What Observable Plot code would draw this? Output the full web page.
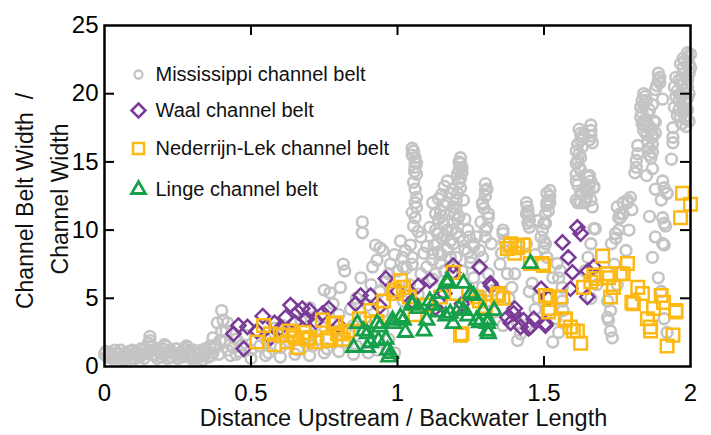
<!DOCTYPE html>
<html><head><meta charset="utf-8">
<script src="https://cdn.jsdelivr.net/npm/d3@7"></script>
<script src="https://cdn.jsdelivr.net/npm/@observablehq/plot@0.6"></script>
<style>
body{margin:0;background:#fff;}
g[aria-label="x-axis tick label"], g[aria-label="y-axis tick label"]{font-size:24px;}
</style>
</head><body>
<div id="chart"></div>
<script>
// ---- data ----
const mississippi = [
[0.0,0.9],[0.005,1.1],[0.01,0.7],[0.02,1.0],[0.03,0.8],[0.035,1.2],[0.04,0.6],[0.05,0.9],[0.06,0.7],[0.065,0.5],[0.07,1.0],[0.08,0.8],[0.09,0.6],[0.095,1.2],[0.10,0.9],[0.11,1.1],[0.12,0.7],[0.125,1.3],[0.13,0.9],[0.14,1.3],[0.15,1.7],[0.155,2.2],[0.16,1.2],[0.17,0.8],[0.18,0.6],[0.185,1.3],[0.19,1.0],[0.20,1.3],[0.21,1.5],[0.215,0.6],[0.22,1.0],[0.23,0.7],[0.24,0.9],[0.245,1.3],[0.25,0.6],[0.26,1.0],[0.27,1.3],[0.28,1.5],[0.29,1.2],[0.30,0.8],[0.305,1.2],[0.31,0.6],[0.32,0.9],[0.33,1.2],[0.335,0.5],[0.34,0.8],[0.35,1.1],[0.355,0.7],[0.36,1.5],[0.37,1.0],[0.37,2.1],[0.38,1.6],[0.385,3.2],[0.40,4.1],[0.42,3.2],[0.40,2.6],[0.41,1.8],[0.42,1.2],[0.43,0.8],[0.44,1.4],[0.45,2.0],[0.46,1.1],[0.47,1.6],
[0.015,0.9],[0.025,0.6],[0.045,1.0],[0.055,1.2],[0.075,0.7],[0.085,1.1],[0.105,0.6],[0.115,0.8],[0.135,0.6],[0.145,1.0],[0.165,0.9],[0.175,1.2],[0.195,0.7],[0.205,0.9],[0.225,1.2],[0.235,1.0],[0.255,0.9],[0.265,0.7],[0.275,1.0],[0.285,0.8],[0.295,0.6],[0.315,1.0],[0.325,0.7],[0.345,1.3],[0.365,0.8],[0.375,1.3],[0.39,0.9],[0.395,1.9],[0.405,3.4],[0.415,2.6],[0.43,1.6],[0.45,0.9],[0.15,1.0],[0.155,1.9],[0.16,1.5],[0.205,1.6],[0.285,1.4],
[0.5,0.6],[0.55,0.8],[0.6,0.7],[0.65,0.9],[0.7,0.8],[0.75,1.0],[0.8,1.1],[0.85,0.9],[0.9,1.0],
[0.48,2.3],[0.5,1.2],[0.52,2.6],[0.53,1.5],[0.55,2.0],[0.56,1.0],[0.58,2.8],[0.6,1.4],[0.61,3.0],[0.63,1.8],[0.64,2.6],[0.66,1.2],[0.67,3.4],[0.69,2.2],[0.70,4.3],[0.71,1.5],[0.72,3.0],[0.73,2.0],[0.75,5.6],[0.75,3.6],[0.76,1.3],[0.77,5.4],[0.78,4.6],[0.79,2.6],[0.80,3.8],[0.805,5.8],[0.815,7.5],[0.82,7.0],[0.83,1.8],[0.84,4.2],[0.85,3.0],[0.86,5.0],[0.875,6.5],[0.88,10.6],[0.88,9.8],[0.89,3.6],[0.9,4.5],[0.91,6.0],[0.915,7.3],[0.925,8.9],[0.93,7.8],[0.94,5.5],[0.95,4.0],[0.96,6.2],[0.976,7.5],[1.0,7.0],[1.017,8.0],[1.027,8.5],[1.044,8.9],
[0.86,1.5],[0.9,2.5],[0.93,1.2],[0.97,2.0],[0.99,1.0],
[1.06,12.0],[1.06,10.9],[1.055,15.8],[1.06,15.3],[1.065,14.9],[1.065,14.1],[1.065,11.7],[1.08,9.5],[1.09,8.3],[1.10,7.3],[1.0,5.5],[1.02,4.8],[1.04,6.0],[1.07,5.3],[1.12,6.4],[1.136,9.75],[1.136,9.0],[1.147,11.4],[1.157,10.5],[1.17,12.0],[1.18,12.7],[1.19,10.5],[1.18,9.2],[1.215,15.3],[1.215,14.9],[1.22,14.2],[1.215,13.1],[1.205,12.7],[1.19,11.7],[1.225,12.2],[1.2,8.0],[1.225,9.2],[1.24,10.0],[1.26,6.5],[1.29,12.0],[1.31,11.2],[1.28,8.5],[1.29,8.0],[1.30,13.4],[1.30,12.9],[1.31,6.8],[1.32,9.0],[1.33,5.6],
[1.05,15.5],[1.06,14.6],[1.055,13.5],[1.06,13.0],[1.065,12.4],[1.05,11.3],[1.055,10.3],[1.07,9.9],
[1.21,15.0],[1.22,14.6],[1.215,13.8],[1.21,13.5],[1.2,12.2],[1.195,11.2],[1.205,10.8],[1.185,10.0],
[1.305,13.0],[1.3,12.5],[1.295,11.6],[1.285,10.6],[1.3,10.0],
[0.95,8.5],[0.97,6.8],[0.99,8.2],[1.01,9.2],[1.03,7.2],[1.05,8.0],[1.08,6.8],[1.1,8.8],[1.12,7.8],[1.14,8.4],[1.16,9.6],[1.18,8.0],[1.22,7.0],[1.24,8.4],[1.26,8.8],[1.28,7.2],[1.11,10.2],[1.15,11.0],[1.23,10.8],
[1.15,8.2],[1.16,7.0],[1.2,9.8],[1.21,11.0],[1.17,10.0],[1.23,8.6],[1.25,7.6],[1.27,9.5],[1.13,6.8],
[1.12,12.0],[1.13,11.2],[1.14,10.8],[1.15,12.6],[1.16,13.2],[1.17,13.6],[1.18,11.4],[1.19,13.0],[1.2,11.6],[1.16,11.8],[1.14,12.3],[1.13,10.0],[1.15,9.4],[1.17,8.6],[1.19,9.0],[1.21,9.5],[1.125,8.9],[1.145,7.6],[1.205,14.1],[1.21,14.4],
[1.06,15.0],[1.058,14.3],[1.05,16.0],[1.31,10.9],[1.305,10.2],[1.29,11.9],[1.3,9.5],[1.36,10.0],[1.365,9.2],[1.355,8.3],[1.245,9.5],[1.25,8.0],[1.26,9.0],[1.14,9.75],[1.135,9.0],[1.12,8.3],[1.05,7.5],[1.02,7.3],[0.94,8.7],
[1.36,9.75],[1.35,7.5],[1.375,6.8],[1.40,6.8],[1.39,5.8],[1.41,3.2],[1.41,1.9],[1.42,2.4],[1.443,11.7],[1.447,11.1],[1.45,10.2],[1.44,9.0],[1.46,6.1],[1.47,8.2],[1.48,5.0],[1.52,12.9],[1.515,12.2],[1.515,11.4],[1.52,12.0],[1.505,10.5],[1.50,8.7],[1.51,8.0],[1.49,9.5],[1.53,6.5],[1.556,7.0],[1.562,5.8],[1.563,4.8],[1.565,4.1],[1.54,3.5],[1.55,2.5],[1.53,1.8],
[1.445,11.4],[1.45,10.7],[1.52,12.5],[1.51,11.8],[1.5,9.2],[1.495,10.0],
[1.44,12.0],[1.44,11.2],[1.445,10.5],[1.51,12.7],[1.51,12.0],[1.505,11.2],[1.50,10.5],[1.505,9.0],[1.48,10.7],[1.545,7.55],[1.55,6.5],
[1.33,4.0],[1.36,3.0],[1.38,5.0],[1.45,5.5],[1.47,4.2],[1.44,3.0],[1.29,5.8],[1.31,4.8],
[1.625,17.1],[1.66,17.7],[1.625,16.6],[1.66,16.9],[1.61,15.8],[1.625,15.3],[1.61,14.9],[1.625,14.4],[1.61,13.6],[1.66,13.6],[1.67,13.1],[1.65,12.8],[1.64,12.0],[1.665,11.7],[1.61,12.2],[1.625,12.0],[1.645,12.4],[1.675,10.1],[1.665,16.4],[1.63,16.1],[1.655,14.0],[1.66,9.0],[1.65,8.0],[1.64,7.0],[1.68,6.0],[1.66,5.0],
[1.62,17.4],[1.635,17.0],[1.63,16.8],[1.615,16.3],[1.62,15.6],[1.615,15.1],[1.62,14.6],[1.61,14.1],[1.615,13.3],[1.65,13.9],[1.655,13.3],[1.64,13.0],[1.63,12.6],[1.66,12.2],[1.655,16.6],[1.66,17.3],
[1.625,12.7],[1.65,12.9],[1.67,13.2],[1.615,12.0],[1.67,10.1],
[1.75,11.7],[1.77,12.0],[1.76,10.9],[1.744,9.75],[1.73,9.0],[1.785,12.2],[1.795,12.4],[1.76,11.2],[1.717,4.8],[1.727,4.1],[1.72,3.4],[1.727,2.6],[1.733,2.1],[1.74,7.5],[1.75,6.0],[1.78,8.5],[1.79,10.0],[1.80,11.5],
[1.785,12.0],[1.77,11.2],[1.755,10.9],[1.755,10.0],[1.745,9.4],[1.717,3.6],
[1.82,16.2],[1.815,15.1],[1.81,14.2],[1.84,20.0],[1.835,19.5],[1.83,19.0],[1.83,18.3],[1.835,17.8],[1.84,17.3],[1.85,19.5],[1.86,18.8],[1.865,17.3],[1.87,16.8],[1.87,16.3],[1.865,15.3],[1.875,18.0],[1.85,18.0],[1.89,21.5],[1.89,21.0],[1.885,20.6],[1.905,19.6],[1.88,17.9],[1.88,17.1],[1.86,16.0],[1.85,14.0],[1.87,14.5],[1.88,13.0],[1.905,13.6],[1.91,13.1],[1.92,12.7],[1.9,12.2],[1.905,10.9],[1.905,9.0],[1.915,10.3],[1.86,11.0],[1.88,9.5],[1.87,8.0],[1.89,6.5],[1.9,5.5],[1.91,3.5],[1.92,2.5],
[1.845,19.8],[1.84,19.2],[1.835,18.6],[1.84,18.0],[1.845,17.6],[1.85,17.0],[1.855,16.5],[1.86,17.6],[1.87,19.2],[1.855,18.5],[1.88,20.3],[1.895,20.8],[1.895,21.2],[1.87,17.0],[1.86,15.5],[1.87,15.7],[1.82,15.6],[1.815,14.6],
[1.91,10.5],[1.91,8.9],[1.92,12.7],
[1.94,17.5],[1.94,16.8],[1.94,16.4],[1.935,15.2],[1.95,21.2],[1.945,20.5],[1.945,19.0],[1.955,18.4],[1.966,22.2],[1.98,22.4],[1.99,22.7],[2.0,22.9],[2.0,21.9],[1.98,21.5],[1.97,20.7],[1.99,20.5],[1.965,20.0],[1.99,19.7],[1.975,19.0],[1.99,18.8],[1.98,18.3],[1.965,18.3],[1.995,18.0],[1.955,20.2],[1.975,21.9],[1.995,21.5],[1.985,19.5],[1.96,19.5],
[1.97,21.0],[1.985,21.2],[1.995,22.2],[1.99,23.0],[1.975,22.6],[1.96,21.0],[1.97,19.8],[1.98,20.0],[1.995,20.0],[1.99,21.0],[1.975,18.6],[1.985,18.1],[1.96,18.8],[1.95,19.8],[1.97,17.8],[1.985,17.6]
];
const waal = [
[0.44,2.4],[0.457,3.0],[0.488,2.9],[0.475,1.3],[0.54,3.7],[0.567,2.1],[0.618,3.6],[0.635,4.5],[0.66,4.0],[0.675,4.25],[0.65,3.2],[0.69,3.5],[0.60,2.8],[0.745,3.9],[0.765,4.25],[0.72,3.3],[0.80,3.0],[0.857,4.6],[0.874,5.2],[0.908,5.2],[0.96,6.45],[0.94,4.4],[1.0,5.5],[1.07,5.9],[1.11,6.3],[1.16,5.35],[1.19,6.9],[1.19,7.4],[1.25,5.2],[1.28,7.3],[1.317,6.1],[1.32,5.9],[1.40,4.25],[1.375,3.6],[1.396,3.9],[1.386,3.2],[1.42,2.9],[1.43,3.4],[1.447,2.8],[1.454,2.9],[1.465,3.5],[1.505,3.0],[1.505,3.15],[1.49,5.7],[1.515,5.0],[1.563,9.1],[1.583,8.0],[1.614,10.2],[1.625,9.75],[1.597,6.9],[1.59,5.7],[1.65,7.0],[1.67,7.3],[1.648,5.1],[0.52,2.6],[0.58,3.2],[0.70,4.1],[1.05,4.8],[1.13,4.3],[1.22,4.6]
];
const nederrijnLek = [
[0.543,3.0],[0.52,1.8],[0.567,2.4],[0.60,2.3],[0.624,1.8],[0.66,1.4],[0.645,2.3],[0.693,2.0],[0.72,1.8],[0.744,3.4],[0.79,3.2],[0.76,2.1],[0.795,2.4],[0.83,2.6],[0.815,2.0],[0.65,2.1],[0.70,2.1],[0.78,3.15],[0.765,1.9],[0.806,2.4],[0.58,1.6],[0.63,2.6],[0.68,2.5],[0.91,4.1],[0.953,4.8],[0.987,5.35],[1.01,6.3],[1.02,5.8],[0.99,5.6],[1.04,5.1],[0.87,3.5],[0.93,3.3],[1.147,5.1],[1.19,6.9],[1.2,5.35],[1.22,2.4],[1.215,2.3],[1.27,5.1],[1.28,4.8],[1.34,5.2],[1.36,5.0],[1.345,5.35],[1.385,8.9],[1.41,8.7],[1.43,8.9],[1.40,8.3],[1.386,9.0],[1.375,8.65],[1.454,7.55],[1.495,7.55],[1.498,7.4],[1.505,5.2],[1.52,5.1],[1.52,4.25],[1.515,4.0],[1.556,5.1],[1.573,3.4],[1.573,3.5],[1.59,2.9],[1.60,2.6],[1.614,2.6],[1.625,1.7],[1.635,5.8],[1.66,6.2],[1.67,6.7],[1.68,6.45],[1.70,8.1],[1.717,6.8],[1.72,6.5],[1.737,5.8],[1.727,5.1],[1.76,6.8],[1.785,7.55],[1.77,6.8],[1.82,5.8],[1.805,4.6],[1.80,4.7],[1.836,5.35],[1.853,3.5],[1.863,2.9],[1.864,2.6],[1.9,5.2],[1.908,4.7],[1.874,4.25],[1.95,4.1],[1.95,4.0],[1.94,2.3],[1.92,1.5],[1.966,10.9],[2.0,11.9],[1.973,12.7],[1.1,4.5],[1.06,3.8],[1.3,4.4]
];
const linge = [
[0.85,1.4],[0.863,3.15],[0.897,1.4],[0.897,2.4],[0.93,3.15],[0.935,1.9],[0.966,1.2],[0.97,0.7],[0.987,3.15],[1.01,3.6],[1.027,2.5],[1.05,4.6],[1.07,4.25],[1.09,2.6],[1.11,4.8],[1.136,4.0],[1.147,5.35],[1.17,6.1],[1.18,3.9],[1.19,3.15],[1.225,6.1],[1.225,4.1],[1.25,5.35],[1.27,3.4],[1.293,4.1],[1.307,3.15],[0.884,2.6],[0.94,2.9],[0.96,2.0],[0.976,0.95],[0.983,3.4],[1.02,3.4],[1.05,4.5],[1.1,3.4],[1.12,4.5],[1.17,6.3],[1.165,3.7],[1.21,4.25],[1.26,5.2],[1.24,3.7],[1.28,3.2],[1.307,2.6],[1.31,3.4],[1.33,4.1],[1.31,2.4],[1.454,7.55],[0.908,1.75]
];
const seriesNames = ["Mississippi channel belt","Waal channel belt","Nederrijn-Lek channel belt","Linge channel belt"];
const xTicks = [0,0.5,1,1.5,2];
const yTicks = [0,5,10,15,20,25];
const xInnerTicks = [0.5,1,1.5];
const yInnerTicks = [5,10,15,20];
const xLabel = "Distance Upstream / Backwater Length";
const yLabelLines = ["Channel Belt Width\u00A0 /","Channel Width"];

// ---- styles ----
const colors = ["#c4c4c4","#7a3b98","#fdb913","#16a04a"];
const symbols = ["circle","diamond2","square2","triangle2"];
const radii = [5.4,6.4,8,6.8];
const widths = [2.6,2.5,2.5,2.8];
const legendR = [4,6.3,7,6.6];
const legendW = [2.3,2.5,2.5,2.8];
const W=711,H=435,mL=104,mR=21,mT=25,mB=69;
const fw=W-mL-mR, fh=H-mT-mB;

const seriesData = [mississippi,waal,nederrijnLek,linge];
const marks = [];
seriesData.forEach((data,i)=>{
  marks.push(Plot.dot(data,{x:d=>d[0],y:d=>d[1],symbol:symbols[i],r:radii[i],stroke:colors[i],strokeWidth:widths[i],fill:"none"}));
});
// axes
marks.push(Plot.axisX({ticks:xTicks,tickSize:0,tickPadding:17,tickFormat:d=>String(d),label:null,fontSize:24}));
marks.push(Plot.axisY({ticks:yTicks,tickSize:0,tickPadding:6,tickFormat:d=>String(d),label:null,fontSize:24}));
// inward ticks
marks.push(Plot.tickX(xInnerTicks,{x:d=>d,insetTop:fh-10,stroke:"black",strokeWidth:2}));
marks.push(Plot.tickX(xInnerTicks,{x:d=>d,insetBottom:fh-10,stroke:"black",strokeWidth:2}));
marks.push(Plot.tickY(yInnerTicks,{y:d=>d,insetRight:fw-10,stroke:"black",strokeWidth:2}));
marks.push(Plot.tickY(yInnerTicks,{y:d=>d,insetLeft:fw-10,stroke:"black",strokeWidth:2}));
marks.push(Plot.frame({stroke:"black",strokeWidth:2.5}));
// axis titles
marks.push(Plot.text([xLabel],{text:d=>d,frameAnchor:"bottom",dx:6,dy:52,fontSize:23.5,fill:"#111",textAnchor:"middle",lineAnchor:"middle"}));
marks.push(Plot.text([yLabelLines[0]],{text:d=>d,frameAnchor:"left",dx:-79,dy:5,rotate:-90,fontSize:23,fill:"#111",textAnchor:"middle",lineAnchor:"middle"}));
marks.push(Plot.text([yLabelLines[1]],{text:d=>d,frameAnchor:"left",dx:-44,dy:3,rotate:-90,fontSize:23,fill:"#111",textAnchor:"middle",lineAnchor:"middle"}));
// legend
const legendDy = [49,85,123,164];
seriesNames.forEach((name,i)=>{
  marks.push(Plot.dot([name],{frameAnchor:"top-left",dx:34,dy:legendDy[i],symbol:symbols[i],r:legendR[i],stroke:colors[i],strokeWidth:legendW[i],fill:"none"}));
  marks.push(Plot.text([name],{text:d=>d,frameAnchor:"top-left",dx:51,dy:legendDy[i],textAnchor:"start",lineAnchor:"middle",fontSize:20,fill:"#111"}));
});

const chart = Plot.plot({
  width:W,height:H,marginLeft:mL,marginRight:mR,marginTop:mT,marginBottom:mB,
  x:{domain:[0,2]}, y:{domain:[0,25]},
  style:{fontFamily:"'Liberation Sans', Arial, sans-serif",background:"white",color:"black",overflow:"visible"},
  marks
});
document.getElementById("chart").appendChild(chart);
</script>
</body></html>
